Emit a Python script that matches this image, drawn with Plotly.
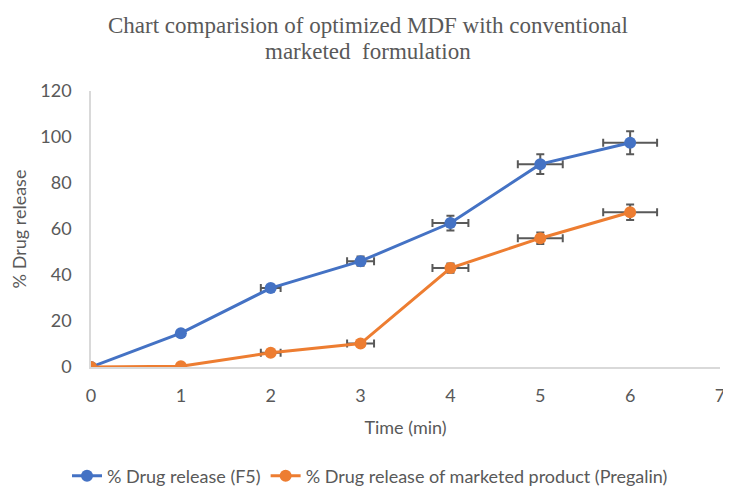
import plotly.graph_objects as go

time = [0, 1, 2, 3, 4, 5, 6]
f5 = [0, 14.7, 34.3, 46.0, 62.6, 88.2, 97.5]
f5_yerr = [0, 0, 1.2, 2.0, 3.2, 4.3, 5.0]
f5_xerr = [0, 0, 0.11, 0.15, 0.2, 0.25, 0.3]
mkt = [0, 0.3, 6.2, 10.2, 43.0, 56.0, 67.3]
mkt_yerr = [0, 0, 1.2, 1.0, 2.0, 2.5, 3.4]
mkt_xerr = [0, 0, 0.11, 0.15, 0.2, 0.25, 0.3]
x_ticks = [0, 1, 2, 3, 4, 5, 6, 7]
title_lines = ["Chart comparision of optimized MDF with conventional", "marketed  formulation"]

grey = "#595959"
font_sans = "Lato, Open Sans, sans-serif"
serif = "Liberation Serif, Times New Roman, serif"

fig = go.Figure()
for name, y, ye, xe, col in [
    ("% Drug release (F5)", f5, f5_yerr, f5_xerr, "#4472C4"),
    ("% Drug release of marketed product (Pregalin)", mkt, mkt_yerr, mkt_xerr, "#ED7D31"),
]:
    fig.add_trace(go.Scatter(
        x=time, y=y, name=name, mode="lines+markers",
        line=dict(color=col, width=3),
        marker=dict(color=col, size=12),
        error_y=dict(type="data", array=ye, visible=True, color=grey, thickness=2, width=4),
        error_x=dict(type="data", array=xe, visible=True, color=grey, thickness=2, width=4),
    ))

# page body has an 8px margin; figure coords = screen coords - 8
W, H = 719, 480
L, R, T, B = 83, 7, 83, 121
PW, PH = W - L - R, H - T - B
fig.update_layout(
    width=W, height=H,
    paper_bgcolor="white", plot_bgcolor="white",
    margin=dict(l=L, r=R, t=T, b=B),
    showlegend=True,
    legend=dict(orientation="h", xref="container", yref="container",
                x=362 / W, xanchor="center", y=1 - 468 / H, yanchor="middle",
                itemwidth=30, font=dict(family=font_sans, size=18, color=grey)),
    font=dict(family=font_sans, color=grey),
)
for txt, yc in zip(title_lines, [17, 43]):
    fig.add_annotation(text=txt, xref="paper", yref="paper",
                       x=(360 - L) / PW, xanchor="center",
                       y=1 + (T - yc) / PH, yanchor="middle", showarrow=False,
                       font=dict(family=serif, size=23, color=grey))
fig.update_xaxes(
    range=[0, 7], tickvals=x_ticks, showgrid=False, zeroline=False, automargin=False,
    showline=True, linecolor="#D9D9D9", linewidth=1.5, ticks="",
    tickfont=dict(size=18, color=grey), ticklabelstandoff=12, ticklabeloverflow="allow",
    title=dict(text="Time (min)", font=dict(size=18, color=grey), standoff=16),
)
fig.update_yaxes(
    range=[0, 120], dtick=20, showgrid=False, zeroline=False, automargin=False,
    showline=True, linecolor="#D9D9D9", linewidth=1.5, ticks="",
    tickfont=dict(size=18, color=grey), ticklabelstandoff=14,
    title=dict(text="% Drug release", font=dict(size=18, color=grey), standoff=10),
)
fig.write_html("out.html")
